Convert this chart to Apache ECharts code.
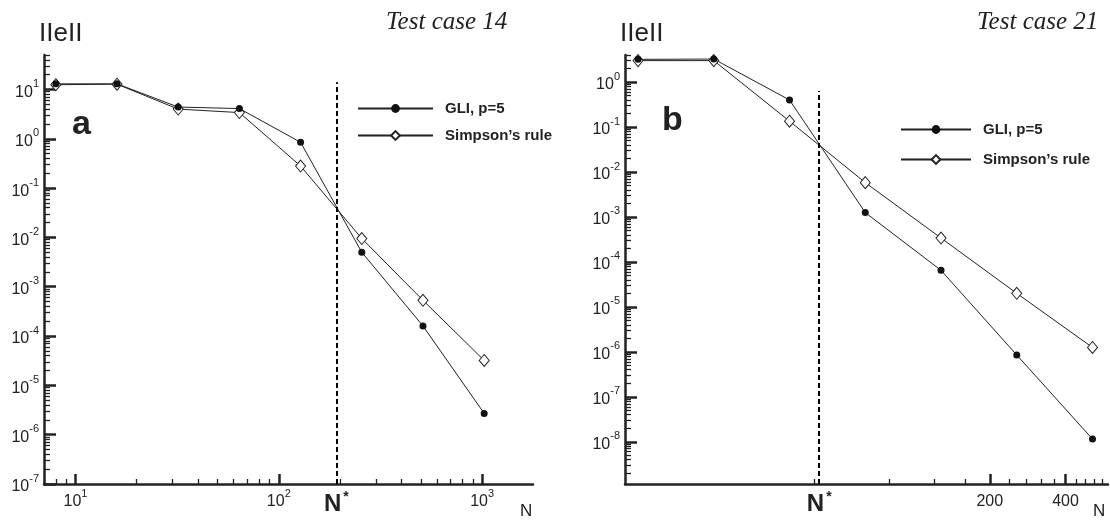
<!DOCTYPE html>
<html><head><meta charset="utf-8">
<script src="https://cdn.jsdelivr.net/npm/echarts@6/dist/echarts.min.js"></script>
<style>html,body{margin:0;padding:0;background:#fff}#c{width:1110px;height:521px}</style>
</head><body><div id="c"></div>
<script>
// ---- data (panel a: Test case 14) ----
const N_A = [8, 16, 32, 64, 128, 256, 512, 1024];
const GLI_A = [13, 13, 4.4, 4.1, 0.85, 0.005, 1.6e-4, 2.7e-6];
const SIMP_A = [12.5, 12.8, 4.0, 3.4, 0.28, 0.0095, 5.3e-4, 3.2e-5];
const NSTAR_A = 192;
const Y_MAJOR_A = [1e-7, 1e-6, 1e-5, 1e-4, 1e-3, 1e-2, 1e-1, 1, 10];
const X_MAJOR_A = [10, 100, 1000];

// ---- data (panel b: Test case 21) ----
const N_B = [8, 16, 32, 64, 128, 256, 512];
const GLI_B = [3.2, 3.25, 0.40, 1.25e-3, 6.5e-5, 8.5e-7, 1.15e-8];
const SIMP_B = [3.0, 3.0, 0.135, 5.8e-3, 3.4e-4, 2.0e-5, 1.25e-6];
const NSTAR_B = 42;
const Y_MAJOR_B = [1e-8, 1e-7, 1e-6, 1e-5, 1e-4, 1e-3, 1e-2, 1e-1, 1];
const X_LABELS_B = [200, 400];
const X_MINOR_B = [40, 80, 120, 160, 240, 280, 320, 360, 440, 480, 520, 560];

const LEG_GLI = 'GLI, p=5';
const LEG_SIMP = 'Simpson\u2019s rule';

function minors(lo, hi) {
  const out = [];
  for (let d = Math.floor(Math.log10(lo)); d <= Math.ceil(Math.log10(hi)); d++) {
    for (let k = 2; k <= 9; k++) {
      const v = k * Math.pow(10, d);
      if (v >= lo && v <= hi) out.push(v);
    }
  }
  return out;
}
function sup(v) {
  const e = Math.round(Math.log10(v));
  return '{b|10}{s|' + (e < 0 ? '-' + (-e) : e) + '}';
}
const INK = '#222';
const FONT = 'Liberation Sans';
const RICH = {
  b: { fontSize: 16, fontFamily: FONT, color: INK, lineHeight: 22, verticalAlign: 'bottom' },
  s: { fontSize: 11, fontFamily: FONT, color: INK, lineHeight: 13, verticalAlign: 'top' }
};

function mainAxis(pos, grid, min, max, ticks, labels, fmt, margin, tickLen) {
  return {
    type: 'log', gridIndex: grid, position: pos, min: min, max: max,
    axisLine: { show: true, onZero: false, lineStyle: { color: INK, width: 2.5 } },
    axisTick: { show: true, inside: true, length: tickLen, lineStyle: { color: INK, width: 2.5 }, customValues: ticks },
    axisLabel: { show: true, customValues: labels, formatter: fmt, rich: RICH, margin: margin, color: INK, fontSize: 16, fontFamily: FONT },
    splitLine: { show: false }, minorTick: { show: false }, minorSplitLine: { show: false }
  };
}
function minorAxis(pos, grid, min, max, ticks, len) {
  return {
    type: 'log', gridIndex: grid, position: pos, min: min, max: max,
    axisLine: { show: false, onZero: false },
    axisTick: { show: true, inside: true, length: len, lineStyle: { color: INK, width: 1.3 }, customValues: ticks },
    axisLabel: { show: false },
    splitLine: { show: false }, minorTick: { show: false }
  };
}

const XA = [7, 1780], YA = [1e-7, 50];
const XB = [7.1, 590], YB = [1.15e-9, 4];

function lineSeries(name, xi, yi, xs, ys, kind, extra) {
  const s = {
    type: 'line', name: name, xAxisIndex: xi, yAxisIndex: yi,
    data: xs.map((x, i) => [x, ys[i]]),
    lineStyle: { color: INK, width: 1 },
    animation: false, silent: true
  };
  if (kind === 'circle') {
    s.symbol = 'circle'; s.symbolSize = 7; s.itemStyle = { color: '#111', borderColor: '#111', borderWidth: 0 }; s.z = 4;
  } else {
    s.symbol = 'diamond'; s.symbolSize = [10, 12]; s.itemStyle = { color: '#fff', borderColor: INK, borderWidth: 1 }; s.z = 3;
  }
  return Object.assign(s, extra || {});
}
function nstarLine(x, ymin, ytop) {
  return {
    markLine: {
      silent: true, symbol: 'none', animation: false,
      lineStyle: { color: '#000', width: 2, type: [5, 3] },
      label: {
        show: true, position: 'start', distance: 6, formatter: '{n|N}{s|*}',
        rich: {
          n: { fontSize: 24, fontWeight: 'bold', fontFamily: FONT, color: INK, lineHeight: 26, verticalAlign: 'bottom' },
          s: { fontSize: 14, fontWeight: 'bold', fontFamily: FONT, color: INK, lineHeight: 14, verticalAlign: 'top', padding: [0, 0, 0, 2] }
        }
      },
      data: [[{ coord: [x, ymin] }, { coord: [x, ytop] }]]
    }
  };
}
function txt(text, left, top, style) {
  return { text: text, left: left, top: top, padding: 0, textStyle: Object.assign({ fontFamily: FONT, fontWeight: 'normal', color: INK }, style) };
}

const option = {
  backgroundColor: '#fff',
  animation: false,
  grid: [
    { left: 44, top: 55, width: 489, height: 429 },
    { left: 625, top: 55, width: 483, height: 429 }
  ],
  xAxis: [
    mainAxis('bottom', 0, XA[0], XA[1], X_MAJOR_A, X_MAJOR_A, sup, 4, 10),
    minorAxis('bottom', 0, XA[0], XA[1], minors(XA[0], XA[1]), 5),
    mainAxis('bottom', 1, XB[0], XB[1], X_LABELS_B, X_LABELS_B, v => '{b|' + v + '}', 4, 10),
    minorAxis('bottom', 1, XB[0], XB[1], X_MINOR_B, 5)
  ],
  yAxis: [
    mainAxis('left', 0, YA[0], YA[1], Y_MAJOR_A, Y_MAJOR_A, sup, 5, 12),
    minorAxis('left', 0, YA[0], YA[1], minors(YA[0], YA[1]), 6),
    mainAxis('left', 1, YB[0], YB[1], Y_MAJOR_B, Y_MAJOR_B, sup, 5, 12),
    minorAxis('left', 1, YB[0], YB[1], minors(YB[0], YB[1]), 6)
  ],
  legend: [
    {
      left: 357, top: 101, padding: 0, orient: 'vertical', itemWidth: 75, itemHeight: 11, itemGap: 12,
      selectedMode: false, data: [LEG_GLI, LEG_SIMP],
      textStyle: { fontFamily: FONT, fontWeight: 'bold', fontSize: 15, color: INK, padding: [0, 0, 0, 7] }
    },
    {
      left: 900, top: 122, padding: 0, orient: 'vertical', itemWidth: 70, itemHeight: 11, itemGap: 15,
      selectedMode: false, data: [LEG_GLI, LEG_SIMP],
      textStyle: { fontFamily: FONT, fontWeight: 'bold', fontSize: 15, color: INK, padding: [0, 0, 0, 7] }
    }
  ],
  title: [
    txt('IIeII', 39, 21, { fontSize: 26 }),
    txt('IIeII', 620, 21, { fontSize: 26 }),
    txt('Test case 14', 386, 10, { fontFamily: 'Liberation Serif', fontStyle: 'italic', fontSize: 25 }),
    txt('Test case 21', 977, 10, { fontFamily: 'Liberation Serif', fontStyle: 'italic', fontSize: 25 }),
    txt('a', 72, 108, { fontWeight: 'bold', fontSize: 34 }),
    txt('b', 662, 104, { fontWeight: 'bold', fontSize: 34 }),
    txt('N', 520, 503, { fontSize: 17 }),
    txt('N', 1093, 503, { fontSize: 17 })
  ],
  series: [
    lineSeries(LEG_SIMP, 0, 0, N_A, SIMP_A, 'diamond'),
    lineSeries(LEG_GLI, 0, 0, N_A, GLI_A, 'circle', nstarLine(NSTAR_A, YA[0], 14)),
    lineSeries(LEG_SIMP, 2, 2, N_B, SIMP_B, 'diamond'),
    lineSeries(LEG_GLI, 2, 2, N_B, GLI_B, 'circle', nstarLine(NSTAR_B, YB[0], 0.63))
  ]
};
const chart = echarts.init(document.getElementById('c'), null, { renderer: 'canvas' });
chart.setOption(option);
</script>
</body></html>
